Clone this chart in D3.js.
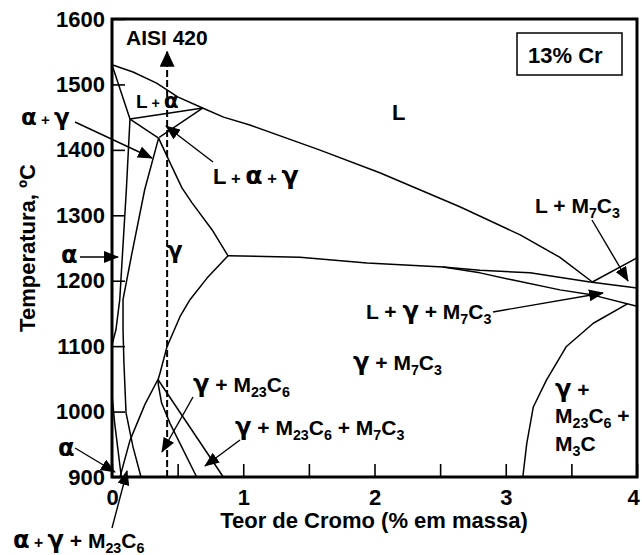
<!DOCTYPE html>
<html>
<head>
<meta charset="utf-8">
<script src="https://cdn.jsdelivr.net/npm/d3@7"></script>
<style>
  body { margin: 0; background: #fff; }
  svg { display: block; font-family: "Liberation Sans", Arial, sans-serif; font-weight: bold; }
  text { white-space: pre; }
</style>
</head>
<body>
<svg id="chart" width="642" height="555"></svg>
<script>
// axis values
const xTicks = [0, 0.5, 1, 1.5, 2, 2.5, 3, 3.5, 4];
const yTicks = [900, 1000, 1100, 1200, 1300, 1400, 1500, 1600];

// phase boundaries, [teor, temperatura °C]
const liquidus = [[0, 1530], [0.16, 1519], [0.34, 1502], [0.5, 1481], [0.69, 1464], [0.85, 1450], [1.05, 1438],
  [1.58, 1400], [2.04, 1365], [2.65, 1313], [3.11, 1270], [3.41, 1236], [3.66, 1198]];
const liqM7C3 = [[3.66, 1198], [4, 1235]];
const alphaBoundary = [[0, 1530], [0.137, 1447], [0.109, 1338], [0.059, 1171], [0.03, 1125], [0, 1102]];
const lAlphaBottom = [[0.137, 1447], [0.693, 1464]];
const triLeft = [[0.137, 1447], [0.355, 1418]];
const triRight = [[0.693, 1464], [0.36, 1419]];
const gammaLoopLeft = [[0.355, 1418], [0.249, 1339], [0.147, 1237], [0.084, 1171], [0.084, 1125], [0.091, 1074],
  [0.107, 998], [0.16, 946], [0.221, 900]];
const gammaLoopRight = [[0.355, 1418], [0.457, 1374], [0.533, 1342], [0.61, 1319], [0.762, 1278], [0.884, 1238]];
const eutecticTop = [[0.884, 1238], [1.432, 1236], [1.943, 1227], [2.522, 1221], [2.804, 1216], [3.185, 1212],
  [3.642, 1198], [4, 1189]];
const eutecticBottom = [[2.522, 1221], [2.804, 1212], [3.055, 1201], [3.413, 1186], [3.665, 1178], [4, 1161]];
const gammaM7C3 = [[0.884, 1238], [0.724, 1204], [0.594, 1171], [0.518, 1145], [0.419, 1099], [0.366, 1059],
  [0.35, 1048], [0.353, 1041], [0.378, 1013], [0.442, 982], [0.531, 946], [0.645, 900]];
const gammaM23C6 = [[0.35, 1049], [0.251, 1011], [0.137, 956], [0.061, 900]];
const m7c3Outer = [[0.35, 1049], [0.848, 900]];
const alphaLow = [[0, 1025], [0.02, 983], [0.071, 900]];
const m3cCurve = [[3.13, 900], [3.16, 951], [3.21, 1007], [3.31, 1048], [3.46, 1099], [3.667, 1135], [3.93, 1165]];

const boundaries = [liquidus, liqM7C3, alphaBoundary, lAlphaBottom, triLeft, triRight, gammaLoopLeft,
  gammaLoopRight, eutecticTop, eutecticBottom, gammaM7C3, gammaM23C6, m7c3Outer, alphaLow, m3cCurve];

// AISI 420 composition line
const aisi420 = 0.42;
const aisiRange = [900, 1550];

const W = 642, H = 555;
const margin = { left: 112, right: 5, top: 19, bottom: 78 };

const svg = d3.select("#chart");
svg.append("rect").attr("width", W).attr("height", H).attr("fill", "#fff");

const x = d3.scaleLinear().domain([0, 4]).range([margin.left, W - margin.right]);
const y = d3.scaleLinear().domain([900, 1600]).range([H - margin.bottom, margin.top]);

const defs = svg.append("defs");
defs.append("marker")
  .attr("id", "head")
  .attr("markerUnits", "userSpaceOnUse")
  .attr("markerWidth", 15).attr("markerHeight", 12)
  .attr("refX", 14).attr("refY", 6)
  .attr("orient", "auto")
  .append("path").attr("d", "M0,0L15,6L0,12Z").attr("fill", "#000").attr("stroke", "none");
defs.append("marker")
  .attr("id", "bighead")
  .attr("markerUnits", "userSpaceOnUse")
  .attr("markerWidth", 16).attr("markerHeight", 15)
  .attr("refX", 15).attr("refY", 7.5)
  .attr("orient", "auto")
  .append("path").attr("d", "M0,0L16,7.5L0,15Z").attr("fill", "#000").attr("stroke", "none");

// axes, ticks pointing inwards
const yAxis = svg.append("g")
  .attr("transform", `translate(${margin.left},0)`)
  .call(d3.axisLeft(y).tickValues(yTicks).tickSize(-13).tickPadding(7).tickFormat(d3.format("d")));
const xAxis = svg.append("g")
  .attr("transform", `translate(0,${H - margin.bottom})`)
  .call(d3.axisBottom(x).tickValues(xTicks).tickSize(-13).tickPadding(12)
    .tickFormat(d => Number.isInteger(d) ? d : ""));
[xAxis, yAxis].forEach(a => {
  a.select(".domain").remove();
  a.selectAll("line").attr("stroke", "#000").attr("stroke-width", 1.6);
  a.selectAll("text").attr("font-family", "Liberation Sans, Arial, sans-serif")
    .attr("font-weight", "bold").attr("font-size", 22).attr("fill", "#000");
});
// keep the last label inside the picture
xAxis.selectAll(".tick text").filter(d => d === 4).attr("dx", -4);

// phase lines
const line = d3.line().x(d => x(d[0])).y(d => y(d[1]));
svg.append("g").selectAll("path")
  .data(boundaries)
  .join("path")
  .attr("d", line)
  .attr("fill", "none")
  .attr("stroke", "#000")
  .attr("stroke-width", 1.5)
  .attr("stroke-linejoin", "round");

svg.append("line")
  .attr("x1", x(aisi420)).attr("x2", x(aisi420))
  .attr("y1", y(aisiRange[0])).attr("y2", y(aisiRange[1]))
  .attr("stroke", "#000").attr("stroke-width", 2)
  .attr("stroke-dasharray", "7,3")
  .attr("marker-end", "url(#bighead)");

// frame
svg.append("rect")
  .attr("x", margin.left).attr("y", margin.top)
  .attr("width", W - margin.right - margin.left)
  .attr("height", H - margin.bottom - margin.top)
  .attr("fill", "none").attr("stroke", "#000").attr("stroke-width", 3);

// callout arrows
const arrows = [
  [[75, 122], [152, 158]],
  [[213, 162], [166, 126]],
  [[80, 257], [118, 257]],
  [[592, 220], [628, 281]],
  [[493, 312], [603, 293]],
  [[193, 397], [162, 452]],
  [[240, 440], [205, 466]],
  [[75, 448], [115, 472]],
  [[112, 528], [127, 471]]
];
svg.append("g").selectAll("line")
  .data(arrows)
  .join("line")
  .attr("x1", d => d[0][0]).attr("y1", d => d[0][1])
  .attr("x2", d => d[1][0]).attr("y2", d => d[1][1])
  .attr("stroke", "#000").attr("stroke-width", 1.4)
  .attr("marker-end", "url(#head)");

// labels
const labels = [
  { x: 126, y: 45, fs: 21, parts: ["AISI 420"] },
  { x: 528, y: 63, fs: 22, parts: ["13% Cr"] },
  { x: 392, y: 120, fs: 22, parts: ["L"] },
  { x: 136, y: 108, fs: 19, parts: ["L", [" + ", "sm"], ["α", "g"]] },
  { x: 21, y: 125, fs: 20, parts: [["α", "g"], [" + ", "sm"], ["γ", "g"]] },
  { x: 213, y: 184, fs: 22, parts: ["L", [" + ", "sm"], ["α", "g"], [" + ", "sm"], ["γ", "g"]] },
  { x: 61, y: 263, fs: 21, parts: [["α", "g"]] },
  { x: 167, y: 258, fs: 20, parts: [["γ", "g"]] },
  { x: 535, y: 213, fs: 21, parts: ["L + M", ["7", "sub"], "C", ["3", "sub"]] },
  { x: 366, y: 319, fs: 21, parts: ["L + ", ["γ", "g"], " + M", ["7", "sub"], "C", ["3", "sub"]] },
  { x: 353, y: 370, fs: 21, parts: [["γ", "g"], " + M", ["7", "sub"], "C", ["3", "sub"]] },
  { x: 193, y: 392, fs: 21, parts: [["γ", "g"], " + M", ["23", "sub"], "C", ["6", "sub"]] },
  { x: 235, y: 435, fs: 21, parts: [["γ", "g"], " + M", ["23", "sub"], "C", ["6", "sub"], " + M", ["7", "sub"], "C", ["3", "sub"]] },
  { x: 555, y: 397, fs: 21, parts: [["γ", "g"], " +"] },
  { x: 555, y: 423, fs: 21, parts: ["M", ["23", "sub"], "C", ["6", "sub"], " +"] },
  { x: 555, y: 451, fs: 21, parts: ["M", ["3", "sub"], "C"] },
  { x: 58, y: 456, fs: 21, parts: [["α", "g"]] },
  { x: 13, y: 548, fs: 21, parts: [["α", "g"], [" + ", "sm"], ["γ", "g"], " + M", ["23", "sub"], "C", ["6", "sub"]] }
];

function richText(g, d) {
  const t = g.append("text").attr("x", d.x).attr("y", d.y).attr("font-size", d.fs).attr("fill", "#000");
  let shift = 0;
  d.parts.forEach(p => {
    const [str, kind] = typeof p === "string" ? [p, "n"] : p;
    const target = kind === "sub" ? Math.round(d.fs * 0.25) : 0;
    const ts = t.append("tspan").text(str).attr("dy", target - shift);
    if (kind === "sub") ts.attr("font-size", d.fs * 0.68);
    if (kind === "sm") ts.attr("font-size", d.fs * 0.75);
    if (kind === "g") ts.attr("font-size", d.fs * 1.15).attr("font-family", "DejaVu Sans, sans-serif");
    shift = target;
  });
}
const labelG = svg.append("g");
labels.forEach(d => richText(labelG, d));

// 13% Cr box
svg.append("rect")
  .attr("x", 517).attr("y", 33).attr("width", 105).attr("height", 42)
  .attr("fill", "none").attr("stroke", "#000").attr("stroke-width", 1.5);

// axis titles
svg.append("text")
  .attr("x", 374).attr("y", 528)
  .attr("text-anchor", "middle").attr("font-size", 22)
  .text("Teor de Cromo (% em massa)");
svg.append("text")
  .attr("transform", "translate(35,248) rotate(-90)")
  .attr("text-anchor", "middle").attr("font-size", 22)
  .text("Temperatura, ºC");
</script>
</body>
</html>
